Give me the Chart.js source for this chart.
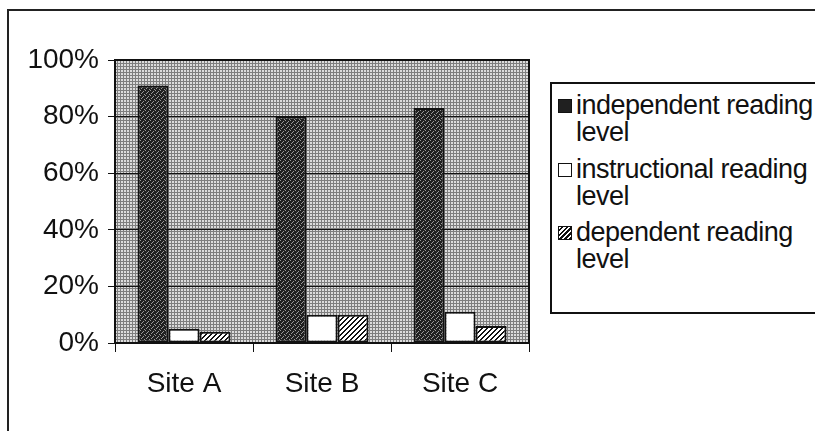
<!DOCTYPE html>
<html>
<head>
<meta charset="utf-8">
<script src="https://cdn.jsdelivr.net/npm/chart.js@4"></script>
<style>
  body { margin: 0; background: #fff; overflow: hidden; }
  #wrap { position: relative; width: 815px; height: 431px; overflow: hidden; }
  #frame { position: absolute; left: 7px; top: 9px; width: 900px; height: 500px; border-left: 2px solid #222; border-top: 2px solid #222; }
  canvas { position: absolute; left: 0; top: 0; }
  #legend {
    position: absolute; left: 550px; top: 82px; width: 300px; height: 228px;
    border-left: 2px solid #111; border-top: 2px solid #111; border-bottom: 2px solid #111; background: #fff;
    font-family: "Liberation Sans", Arial, sans-serif; font-size: 27px; color: #111;
    letter-spacing: -0.5px; line-height: 27px;
  }
  .item { position: absolute; left: 6px; white-space: nowrap; }
  .sw { display: inline-block; width: 12px; height: 12px; border: 1.5px solid #111; margin-right: 4px; vertical-align: 1px; }
  .txt { display: inline-block; vertical-align: top; }
</style>
</head>
<body>
<div id="wrap">
  <div id="frame"></div>
  <canvas id="grafica" width="815" height="431"></canvas>
  <div id="legend"></div>
</div>
<script>
// --- DATOS ---
const sitios = ["Site A", "Site B", "Site C"];
const independiente = [91, 80, 83];
const instruccional = [5, 10, 11];
const dependiente = [4, 10, 6];
const nombresSeries = ["independent reading level", "instructional reading level", "dependent reading level"];
const ticksY = [0, 20, 40, 60, 80, 100];

// --- PATRONES ---
function hacerPatron(tam, dibujar) {
    const c = document.createElement("canvas");
    c.width = tam; c.height = tam;
    const g = c.getContext("2d");
    dibujar(g, tam);
    return g.createPattern(c, "repeat");
}

// fondo punteado del área
const patronFondo = hacerPatron(3, (g) => {
    g.fillStyle = "#dcdcdc"; g.fillRect(0, 0, 3, 3);
    g.fillStyle = "#7e7e7e"; g.fillRect(0, 0, 3, 1); g.fillRect(0, 0, 1, 3);
});

// barra oscura moteada
const patronOscuro = hacerPatron(5, (g) => {
    g.fillStyle = "#202020"; g.fillRect(0, 0, 5, 5);
    g.fillStyle = "#9a9a9a";
    [[0, 0], [3, 1], [1, 3], [4, 4], [2, 2]].forEach(p => g.fillRect(p[0], p[1], 1, 1));
});

// barra rayada
const patronRayas = hacerPatron(5, (g) => {
    g.fillStyle = "#ffffff"; g.fillRect(0, 0, 5, 5);
    g.fillStyle = "#111";
    for (let x = 0; x < 5; x++) {
        g.fillRect(x, 4 - x, 1, 1);
        g.fillRect(x, (5 - x) % 5, 1, 1);
    }
});

const fondoArea = {
    id: "fondoArea",
    beforeDraw(chart) {
        const a = chart.chartArea, ctx = chart.ctx;
        ctx.save();
        ctx.fillStyle = patronFondo;
        ctx.fillRect(a.left, a.top, a.right - a.left, a.bottom - a.top);
        ctx.restore();
    },
    afterDraw(chart) {
        const a = chart.chartArea, ctx = chart.ctx;
        ctx.save();
        ctx.strokeStyle = "#111";
        ctx.lineWidth = 2;
        ctx.strokeRect(a.left, a.top, a.right - a.left, a.bottom - a.top);
        ctx.restore();
    }
};

const fuente = "'Liberation Sans', Arial, sans-serif";

new Chart(document.getElementById("grafica"), {
    type: "bar",
    data: {
        labels: sitios,
        datasets: [
            { label: nombresSeries[0], data: independiente, backgroundColor: patronOscuro },
            { label: nombresSeries[1], data: instruccional, backgroundColor: "#ffffff" },
            { label: nombresSeries[2], data: dependiente, backgroundColor: patronRayas }
        ].map(d => Object.assign(d, { borderColor: "#111", borderWidth: 2, borderSkipped: false }))
    },
    options: {
        responsive: false,
        animation: false,
        devicePixelRatio: 1,
        layout: { padding: { left: 15, top: 60, right: 286, bottom: 38 } },
        datasets: { bar: { barPercentage: 1, categoryPercentage: 0.674 } },
        plugins: { legend: { display: false }, tooltip: { enabled: false } },
        scales: {
            x: {
                afterFit(s) { s.height = 50; },
                grid: { drawOnChartArea: false, drawTicks: true, tickLength: 9, color: "#111", offset: true },
                border: { color: "#111", width: 2 },
                ticks: { color: "#111", font: { family: fuente, size: 28 }, padding: 15 }
            },
            y: {
                min: 0, max: 100,
                afterFit(s) { s.width = 100; },
                afterBuildTicks(s) { s.ticks = ticksY.map(v => ({ value: v })); },
                grid: { color: "#111", lineWidth: 1, drawTicks: true, tickLength: 7, tickColor: "#111" },
                border: { color: "#111", width: 2 },
                ticks: {
                    color: "#111", font: { family: fuente, size: 28 }, padding: 9,
                    callback: v => v + "%"
                }
            }
        }
    },
    plugins: [fondoArea]
});

// --- LEYENDA ---
const muestras = [
    "background:#202020",
    "background:#fff",
    "background:repeating-linear-gradient(-45deg,#111 0 1.5px,#fff 1.5px 3.5px)"
];
const leyenda = document.getElementById("legend");
nombresSeries.forEach((n, i) => {
    const partes = n.split(" ");
    const el = document.createElement("div");
    el.className = "item";
    el.style.top = (8 + i * 63.5) + "px";
    el.innerHTML = '<span class="sw" style="' + muestras[i] + '"></span><span class="txt">' +
        partes.slice(0, 2).join(" ") + "<br>" + partes.slice(2).join(" ") + "</span>";
    leyenda.appendChild(el);
});
</script>
</body>
</html>
